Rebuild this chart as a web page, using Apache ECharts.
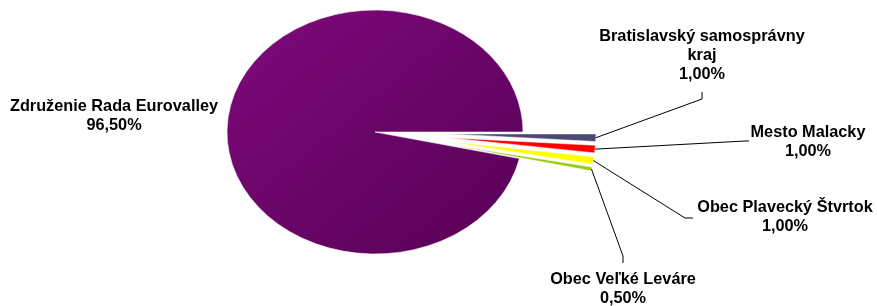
<!DOCTYPE html>
<html>
<head>
<meta charset="utf-8">
<script src="https://cdn.jsdelivr.net/npm/echarts@6/dist/echarts.min.js"></script>
<style>
html,body{margin:0;padding:0;background:#fff;}
#chart{width:877px;height:306px;}
</style>
</head>
<body>
<div id="chart"></div>
<script>
// ---- data ----
var categories = ['Združenie Rada Eurovalley', 'Bratislavský samosprávny kraj', 'Mesto Malacky', 'Obec Plavecký Štvrtok', 'Obec Veľké Leváre'];
var labelNames = ['Združenie Rada Eurovalley', 'Bratislavský samosprávny\nkraj', 'Mesto Malacky', 'Obec Plavecký Štvrtok', 'Obec Veľké Leváre'];
var shares = [96.5, 1.0, 1.0, 1.0, 0.5];

// ---- layout / style (not data) ----
var colors = ['#6c0069', '#4a4a72', '#ff0000', '#ffff00', '#99cc00'];
var exploded = [false, true, true, true, true];
var pie = { cx: 375, cy: 132, r: 148, ratio: 0.824, explode: 73 };
var labelAnchors = [
  { x: 114, y: 116, elbow: null },
  { x: 702, y: 56, elbow: [[702, 99], [702, 92]] },
  { x: 808, y: 142, elbow: [[745, 141], [749, 141]] },
  { x: 785, y: 217, elbow: [[685, 218], [693, 218]] },
  { x: 623, y: 289, elbow: [[623, 256], [623, 263]] }
];

var total = shares.reduce(function (a, b) { return a + b; }, 0);
var startAngles = [], endAngles = [];
(function () {
  var a = 2 * Math.PI * (1 - shares[0] / total);
  for (var i = 0; i < shares.length; i++) {
    startAngles.push(a);
    a += 2 * Math.PI * shares[i] / total;
    endAngles.push(a);
  }
})();

function fmt(v) { return v.toFixed(2).replace('.', ',') + '%'; }

var chart = echarts.init(document.getElementById('chart'), null, { renderer: 'canvas' });

function renderItem(params, api) {
  var i = params.dataIndex;
  var s = startAngles[i], e = endAngles[i];
  var mid = (s + e) / 2;
  var d = exploded[i] ? pie.explode : 0;
  var ox = d * Math.cos(mid), oy = d * Math.sin(mid);
  var fill = colors[i];
  if (i === 0) {
    fill = new echarts.graphic.LinearGradient(0, 0, 1, 1, [
      { offset: 0, color: '#7e0a7c' },
      { offset: 1, color: '#570055' }
    ]);
  }
  var children = [{
    type: 'sector',
    shape: { cx: pie.cx + ox, cy: pie.cy + oy, r: pie.r, r0: 0, startAngle: s, endAngle: e, clockwise: true },
    originX: pie.cx, originY: pie.cy, scaleY: pie.ratio,
    style: { fill: fill, stroke: '#ffffff', lineWidth: 0.6 }
  }];
  var L = labelAnchors[i];
  if (L.elbow) {
    var px = pie.cx + ox + pie.r * Math.cos(mid);
    var py = pie.cy + (oy + pie.r * Math.sin(mid)) * pie.ratio;
    var pts = [[px, py]].concat(L.elbow);
    children.push({
      type: 'polyline',
      shape: { points: pts },
      style: { stroke: '#000000', lineWidth: 1, fill: null }
    });
  }
  children.push({
    type: 'text',
    x: L.x, y: L.y,
    style: {
      text: labelNames[i] + '\n' + fmt(api.value(0)),
      fill: '#000000',
      fontFamily: 'Liberation Sans, Arial, sans-serif',
      fontWeight: 'bold',
      fontSize: 16.3,
      lineHeight: 19,
      align: 'center',
      verticalAlign: 'middle'
    }
  });
  return { type: 'group', children: children };
}

chart.setOption({
  backgroundColor: '#ffffff',
  animation: false,
  series: [{
    type: 'custom',
    coordinateSystem: 'none',
    renderItem: renderItem,
    data: shares.map(function (v, i) { return { name: categories[i], value: [v] }; })
  }]
});
</script>
</body>
</html>
